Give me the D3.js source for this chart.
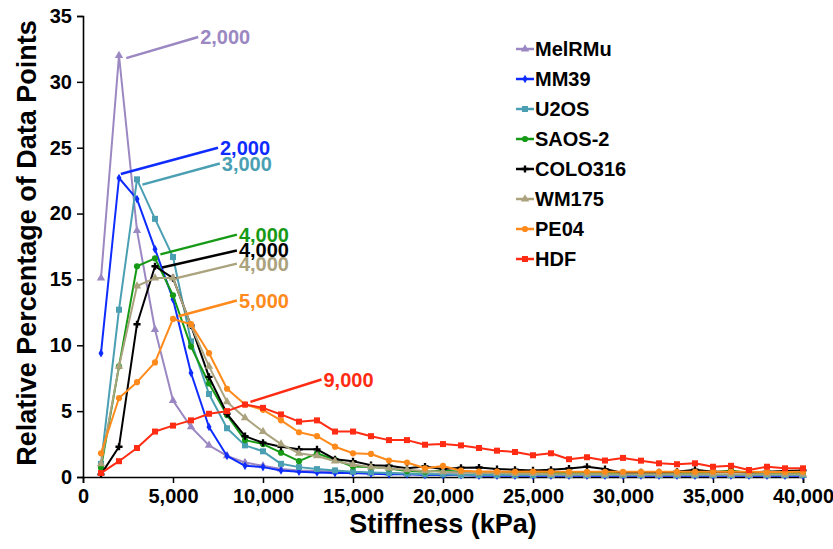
<!DOCTYPE html>
<html><head><meta charset="utf-8">
<script src="https://cdn.jsdelivr.net/npm/d3@7/dist/d3.min.js"></script>
<style>
html,body{margin:0;padding:0;background:#fff;}
svg text{font-family:"Liberation Sans",Arial,Helvetica,sans-serif;font-weight:bold;}
</style></head>
<body><svg id="chart" width="833" height="549"></svg>
<script>
// ---- data ----
const stiffness = [1000,2000,3000,4000,5000,6000,7000,8000,9000,10000,
  11000,12000,13000,14000,15000,16000,17000,18000,19000,20000,
  21000,22000,23000,24000,25000,26000,27000,28000,29000,30000,
  31000,32000,33000,34000,35000,36000,37000,38000,39000,40000];

const seriesNames = ["MelRMu","MM39","U2OS","SAOS-2","COLO316","WM175","PE04","HDF"];

const melRMu = [15.1,32.0,18.7,11.2,5.8,3.8,2.4,1.6,1.1,0.85,
  0.6,0.5,0.45,0.4,0.35,0.3,0.3,0.25,0.2,0.2,
  0.2,0.15,0.15,0.15,0.15,0.1,0.1,0.1,0.1,0.1,
  0.1,0.1,0.1,0.1,0.1,0.1,0.1,0.1,0.1,0.1];
const mm39 = [9.4,22.7,21.1,17.3,13.5,7.9,3.8,1.6,0.85,0.75,
  0.5,0.4,0.35,0.3,0.3,0.25,0.2,0.2,0.15,0.15,
  0.15,0.1,0.1,0.1,0.1,0.1,0.1,0.1,0.1,0.1,
  0.1,0.1,0.1,0.1,0.1,0.1,0.1,0.1,0.1,0.1];
const u2os = [1.0,12.7,22.6,19.6,16.7,10.3,6.3,3.7,2.4,1.95,
  1.0,0.75,0.6,0.5,0.4,0.35,0.3,0.25,0.2,0.2,
  0.15,0.15,0.15,0.15,0.15,0.15,0.15,0.15,0.15,0.15,
  0.15,0.15,0.15,0.15,0.15,0.15,0.15,0.15,0.15,0.15];
const saos2 = [0.7,8.4,16.0,16.6,13.8,9.9,7.1,4.7,2.8,2.5,
  1.85,1.2,1.8,1.3,0.8,0.75,0.65,0.45,0.4,0.5,
  0.4,0.35,0.35,0.3,0.3,0.3,0.3,0.35,0.3,0.3,
  0.25,0.3,0.3,0.3,0.35,0.5,0.3,0.3,0.3,0.3];
const colo316 = [0.2,2.3,11.6,16.0,15.1,11.5,7.6,4.8,3.1,2.6,
  2.3,2.1,2.1,1.35,1.2,0.9,0.85,0.66,0.8,0.6,
  0.7,0.72,0.6,0.55,0.5,0.55,0.65,0.78,0.6,0.3,
  0.35,0.35,0.4,0.55,0.4,0.4,0.35,0.4,0.45,0.5];
const wm175 = [1.0,8.4,14.5,15.1,15.1,11.5,8.4,5.7,4.5,3.45,
  2.5,1.8,1.6,1.2,0.95,0.75,0.65,0.55,0.45,0.4,
  0.35,0.3,0.3,0.25,0.25,0.2,0.2,0.2,0.2,0.2,
  0.2,0.2,0.2,0.2,0.2,0.2,0.2,0.2,0.2,0.2];
const pe04 = [1.8,6.0,7.2,8.7,12.0,11.6,9.4,6.7,5.5,5.1,
  4.3,3.4,3.1,2.3,1.8,1.75,1.25,1.1,0.66,0.84,
  0.48,0.42,0.42,0.4,0.42,0.4,0.4,0.4,0.4,0.4,
  0.4,0.4,0.4,0.4,0.4,0.4,0.4,0.38,0.38,0.4];
const hdf = [0.3,1.2,2.2,3.45,3.9,4.3,4.8,5.0,5.5,5.25,
  4.75,4.2,4.3,3.45,3.45,3.1,2.8,2.8,2.45,2.5,
  2.4,2.2,2.0,1.9,1.65,1.8,1.35,1.5,1.25,1.45,
  1.24,1.04,0.97,1.04,0.78,0.85,0.53,0.78,0.66,0.66];

const seriesValues = [melRMu,mm39,u2os,saos2,colo316,wm175,pe04,hdf];
const seriesColors = ["#9b88c2","#0f2cff","#4a9fb2","#169a16","#000000","#aba27e","#ff8a1c","#ff2b12"];
const seriesSymbols = ["triangle","diamond","square","circle","cross","triangle","circle","square"];

// peak annotations (label, leader start / end in data units)
const peakLabels = ["2,000","2,000","3,000","4,000","4,000","4,000","5,000","9,000"];
const leaderStartX = [2400,2100,3300,4300,4400,5200,5300,9300];
const leaderStartY = [31.8,23.0,22.2,16.9,15.9,15.1,12.2,5.7];
const leaderEndX = [6400,7500,7600,8550,8550,8550,8550,13250];
const leaderEndY = [33.4,25.0,23.8,18.4,17.2,16.2,13.4,7.4];

const xTicks = [0,5000,10000,15000,20000,25000,30000,35000,40000];
const yTicks = [0,5,10,15,20,25,30,35];

// ---- drawing ----
const svg = d3.select("#chart");
svg.append("rect").attr("width",833).attr("height",549).attr("fill","#fff");

const x = d3.scaleLinear().domain([0,40000]).range([83,803]);
const y = d3.scaleLinear().domain([0,35]).range([477,16]);

const symMap = {triangle:d3.symbolTriangle,diamond:d3.symbolDiamond,square:d3.symbolSquare,circle:d3.symbolCircle,cross:d3.symbolCross};
const symSize = {triangle:30,diamond:22,square:36,circle:30,cross:28};

// axes
const xAxis = d3.axisBottom(x).tickValues(xTicks).tickSize(6).tickPadding(6).tickFormat(d3.format(","));
const gx = svg.append("g").attr("transform","translate(0,477)").call(xAxis);
gx.select(".domain").attr("stroke","#000").attr("stroke-width",1.6);
gx.selectAll(".tick line").attr("stroke","#000").attr("stroke-width",1.5);
gx.selectAll(".tick text").attr("font-size",20).attr("fill","#000").attr("font-family","Liberation Sans, Arial, sans-serif").attr("font-weight","bold");

const yAxis = d3.axisLeft(y).tickValues(yTicks).tickSize(6).tickPadding(5).tickFormat(d3.format("d"));
const gy = svg.append("g").attr("transform","translate(83,0)").call(yAxis);
gy.select(".domain").attr("stroke","#000").attr("stroke-width",1.6);
gy.selectAll(".tick line").attr("stroke","#000").attr("stroke-width",1.5);
gy.selectAll(".tick text").attr("font-size",20).attr("fill","#000").attr("font-family","Liberation Sans, Arial, sans-serif").attr("font-weight","bold");

// titles
svg.append("text").attr("x",443).attr("y",533).attr("text-anchor","middle")
  .attr("font-size",27).attr("fill","#000").text("Stiffness (kPa)");
svg.append("text").attr("transform","translate(36,243) rotate(-90)").attr("text-anchor","middle")
  .attr("font-size",27).attr("fill","#000").text("Relative Percentage of Data Points");

// series
const line = d3.line().x(d=>x(d[0])).y(d=>y(d[1]));
seriesNames.forEach((name,i)=>{
  const pts = stiffness.map((s,j)=>[s,seriesValues[i][j]]);
  const g = svg.append("g");
  g.append("path").datum(pts).attr("d",line).attr("fill","none")
    .attr("stroke",seriesColors[i]).attr("stroke-width",2).attr("stroke-linejoin","round");
  const sym = d3.symbol().type(symMap[seriesSymbols[i]]).size(symSize[seriesSymbols[i]]);
  g.selectAll("path.m").data(pts).join("path").attr("class","m")
    .attr("transform",d=>`translate(${x(d[0])},${y(d[1])})`)
    .attr("d",sym).attr("fill",seriesColors[i]);
});

// peak leaders + labels
seriesNames.forEach((name,i)=>{
  svg.append("line").attr("x1",x(leaderStartX[i])).attr("y1",y(leaderStartY[i]))
    .attr("x2",x(leaderEndX[i])).attr("y2",y(leaderEndY[i]))
    .attr("stroke",seriesColors[i]).attr("stroke-width",2.5);
  svg.append("text").attr("x",x(leaderEndX[i])+2).attr("y",y(leaderEndY[i])+7)
    .attr("font-size",20).attr("fill",seriesColors[i]).text(peakLabels[i]);
});

// legend
const lg = svg.append("g");
seriesNames.forEach((name,i)=>{
  const cy = 49 + i*30;
  lg.append("line").attr("x1",516).attr("x2",534).attr("y1",cy).attr("y2",cy)
    .attr("stroke",seriesColors[i]).attr("stroke-width",2.5);
  lg.append("path").attr("transform",`translate(525,${cy})`)
    .attr("d",d3.symbol().type(symMap[seriesSymbols[i]]).size(symSize[seriesSymbols[i]])())
    .attr("fill",seriesColors[i]);
  lg.append("text").attr("x",535).attr("y",cy+7).attr("font-size",20).attr("fill","#000").text(name);
});
</script></body></html>
